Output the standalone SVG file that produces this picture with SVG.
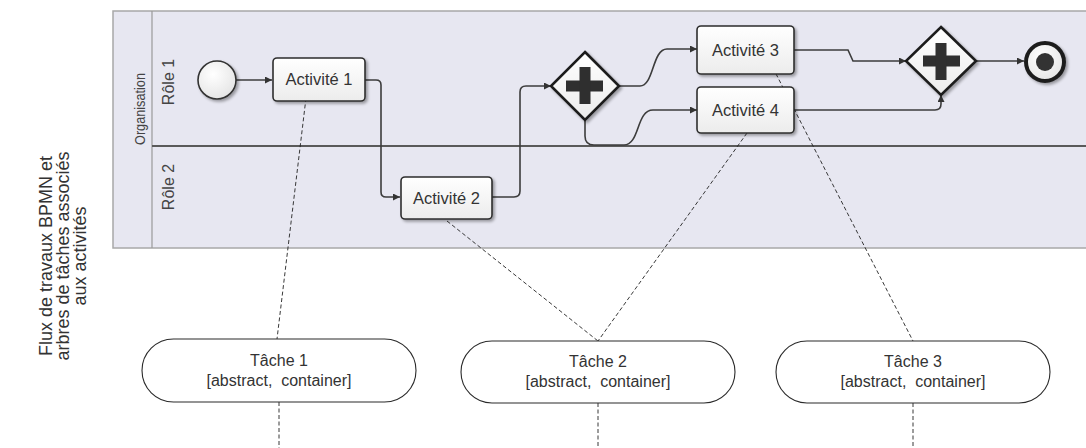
<svg xmlns="http://www.w3.org/2000/svg" width="1086" height="448" viewBox="0 0 1086 448">
  <defs>
    <linearGradient id="boxFill" x1="0" y1="0" x2="0" y2="1">
      <stop offset="0" stop-color="#ffffff"/>
      <stop offset="1" stop-color="#ececec"/>
    </linearGradient>
    <radialGradient id="circFill" cx="0.4" cy="0.35" r="0.7">
      <stop offset="0" stop-color="#ffffff"/>
      <stop offset="1" stop-color="#e4e4e4"/>
    </radialGradient>
    <filter id="shadow" x="-20%" y="-20%" width="150%" height="150%">
      <feGaussianBlur in="SourceAlpha" stdDeviation="1.5"/>
      <feOffset dx="2" dy="2" result="b"/>
      <feComponentTransfer><feFuncA type="linear" slope="0.35"/></feComponentTransfer>
      <feMerge><feMergeNode/><feMergeNode in="SourceGraphic"/></feMerge>
    </filter>
    <marker id="arrow" viewBox="0 0 10 10" refX="10" refY="5" markerWidth="9" markerHeight="7" markerUnits="userSpaceOnUse" orient="auto">
      <path d="M0,0 L10,5 L0,10 z" fill="#333"/>
    </marker>
  </defs>
  <style>
    .pool { fill: #e7e7f1; stroke: #a8a8a8; stroke-width: 1.5; }
    .hdr { stroke: #9a9a9a; stroke-width: 1.2; fill: none; }
    .laneline { stroke: #5a5a5a; stroke-width: 2; }
    .act { fill: url(#boxFill); stroke: #2e2e2e; stroke-width: 1.6; filter: url(#shadow); }
    .actText { font-family: "Liberation Sans", Arial, sans-serif; font-size: 16.5px; fill: #333; text-anchor: middle; }
    .lbl { font-family: "Liberation Sans", Arial, sans-serif; font-size: 15px; fill: #444; text-anchor: middle; }
    .gw { fill: url(#boxFill); stroke: #1e1e1e; stroke-width: 2.6; stroke-linejoin: miter; filter: url(#shadow); }
    .plus { fill: #2f2f2f; }
    .flow { fill: none; stroke: #3c3c3c; stroke-width: 1.6; }
    .assoc { fill: none; stroke: #222; stroke-width: 0.9; stroke-dasharray: 4 2.5; }
    .task { fill: #ffffff; stroke: #2a2a2a; stroke-width: 1.1; }
    .taskText { font-family: "Liberation Sans", Arial, sans-serif; font-size: 16px; fill: #333; text-anchor: middle; }
    .side { font-family: "Liberation Sans", Arial, sans-serif; font-size: 18px; fill: #333; text-anchor: middle; }
  </style>

  <g id="side-label">
    <text class="side" transform="translate(52,256) rotate(-90)">Flux de travaux BPMN et</text>
    <text class="side" transform="translate(69,256) rotate(-90)">arbres de tâches associés</text>
    <text class="side" transform="translate(86,256) rotate(-90)">aux activités</text>
  </g>

  <g id="pool">
    <rect class="pool" x="113" y="11" width="990" height="237"/>
    <line class="hdr" x1="152" y1="11" x2="152" y2="248"/>
    <line class="laneline" x1="152" y1="146" x2="1086" y2="146"/>
    <text class="lbl" transform="translate(145,109) rotate(-90)" textLength="72" lengthAdjust="spacingAndGlyphs">Organisation</text>
    <text class="lbl" transform="translate(174,82) rotate(-90)" style="font-size:16px">Rôle 1</text>
    <text class="lbl" transform="translate(174,187) rotate(-90)" style="font-size:16px">Rôle 2</text>
  </g>

  <g id="connectors">
    <path class="flow" marker-end="url(#arrow)" d="M236,80 L272,80"/>
    <path class="flow" marker-end="url(#arrow)" d="M365,80 L376,80 Q381,80 381,85 L381,192 Q381,197 386,197 L400,197"/>
    <path class="flow" marker-end="url(#arrow)" d="M492,197 L514,197 Q520,197 520,191 L520,92 Q520,86 526,86 L551,86"/>
    <path class="flow" marker-end="url(#arrow)" d="M619,86 L640,86 C654,86 652,49 667,49 L697,49"/>
    <path class="flow" marker-end="url(#arrow)" d="M585,120 L585,136 Q585,145 594,145 L624,145 C640,145 636,110 653,110 L697,110"/>
    <path class="flow" marker-end="url(#arrow)" d="M794,50 L848,50 L853,61 L906,61"/>
    <path class="flow" marker-end="url(#arrow)" d="M794,110 L935,110 Q941,110 941,104 L941,95"/>
    <path class="flow" marker-end="url(#arrow)" d="M976,61 L1024,61"/>

    <path class="assoc" d="M306,98 L277,339"/>
    <path class="assoc" d="M279,402 L279,448"/>
    <path class="assoc" d="M447,221 L598,341"/>
    <path class="assoc" d="M747,133 L598,341"/>
    <path class="assoc" d="M598,403 L598,448"/>
    <path class="assoc" d="M773,68 L913,341"/>
    <path class="assoc" d="M913,403 L913,448"/>
  </g>

  <g id="start">
    <circle cx="217" cy="80" r="19" fill="url(#circFill)" stroke="#333" stroke-width="1.6" filter="url(#shadow)"/>
  </g>

  <g id="act1">
    <rect class="act" x="273" y="58" width="92" height="43" rx="4"/>
    <text class="actText" x="319" y="85">Activité 1</text>
  </g>

  <g id="act2">
    <rect class="act" x="401" y="177" width="91" height="42" rx="4"/>
    <text class="actText" x="446.5" y="204">Activité 2</text>
  </g>

  <g id="gateway1">
    <polygon class="gw" points="585,52 619,86 585,120 551,86"/>
    <rect class="plus" x="566" y="80.5" width="37" height="11"/>
    <rect class="plus" x="579.5" y="67" width="11" height="37"/>
  </g>

  <g id="act3">
    <rect class="act" x="697" y="26" width="97" height="48" rx="4"/>
    <text class="actText" x="745.5" y="56">Activité 3</text>
  </g>

  <g id="act4">
    <rect class="act" x="697" y="87" width="97" height="46" rx="4"/>
    <text class="actText" x="745.5" y="116">Activité 4</text>
  </g>

  <g id="gateway2">
    <polygon class="gw" points="941,27 976,61 941,95 906,61"/>
    <rect class="plus" x="923" y="55.5" width="37" height="11"/>
    <rect class="plus" x="935.5" y="43" width="11" height="37"/>
  </g>

  <g id="end">
    <circle cx="1045" cy="62" r="19" fill="url(#circFill)" stroke="#1e1e1e" stroke-width="4" filter="url(#shadow)"/>
    <circle cx="1045" cy="62" r="9" fill="#333"/>
  </g>

  <g id="task1">
    <rect class="task" x="142" y="339" width="274" height="63" rx="31.5"/>
    <text class="taskText" x="279" y="366">Tâche 1</text>
    <text class="taskText" x="279" y="386" xml:space="preserve">[abstract,  container]</text>
  </g>

  <g id="task2">
    <rect class="task" x="461" y="341" width="274" height="62" rx="31"/>
    <text class="taskText" x="598" y="367">Tâche 2</text>
    <text class="taskText" x="598" y="387" xml:space="preserve">[abstract,  container]</text>
  </g>

  <g id="task3">
    <rect class="task" x="776" y="341" width="274" height="62" rx="31"/>
    <text class="taskText" x="913" y="367">Tâche 3</text>
    <text class="taskText" x="913" y="387" xml:space="preserve">[abstract,  container]</text>
  </g>
</svg>
